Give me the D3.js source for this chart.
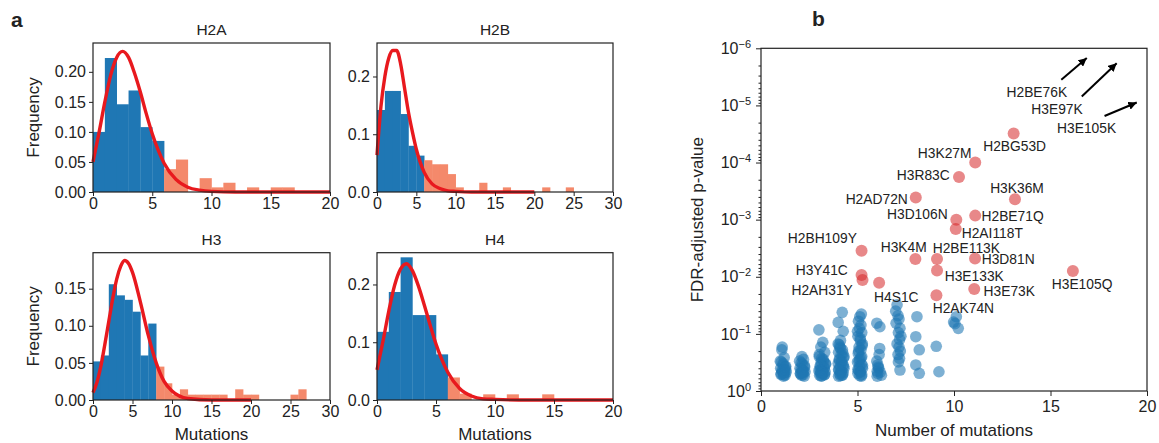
<!DOCTYPE html>
<html><head><meta charset="utf-8">
<script src="https://cdn.jsdelivr.net/npm/d3@7"></script>
<style>
body{margin:0;background:#fff}
svg{display:block}
text{font-family:"Liberation Sans",Arial,Helvetica,sans-serif;fill:#222}
</style>
</head><body>
<svg id="c" width="1159" height="443"></svg>
<script>
// ---------- DATA (panel a: histograms, bin width 1 starting at 0) ----------
const histNames = ["H2A", "H2B", "H3", "H4"];
const h2aFreq = [0.100,0.223,0.146,0.169,0.108,0.085,0.038,0.054,0,0.023,0.0077,0.0154,0,0.0077,0,0.0077,0.0077];
const h2bFreq = [0.142,0.175,0.175,0.135,0.080,0.063,0.055,0.048,0.048,0.031,0.008,0,0,0.016,0,0,0.008,0,0,0,0,0.008,0,0,0.008];
const h3Freq  = [0.052,0.060,0.156,0.141,0.135,0.119,0.060,0.103,0.045,0.0225,0.0072,0.0144,0.0072,0.0072,0.0072,0.0072,0.0072,0,0.0144,0.0072,0.0072,0,0,0,0,0.0072,0.0144];
const h4Freq  = [0.118,0.187,0.247,0.147,0.147,0.079,0.039,0.011,0,0.0098,0,0.0098,0,0,0.0098];
const splitAt = [6, 6, 8, 6];          // bins at/after this value are the tail (orange)
// fitted curves
const curveX   = [0,0.5,1,1.5,2,2.5,3,3.5,4,4.5,5,6,7,8,9,10,12,15,20];
const h2aCurve = [0.050,0.098,0.150,0.195,0.224,0.234,0.224,0.198,0.166,0.130,0.097,0.048,0.021,0.008,0.003,0.001,0,0,0];
const h2bCurve = [0.064,0.148,0.200,0.232,0.245,0.245,0.222,0.180,0.138,0.104,0.074,0.034,0.014,0.006,0.002,0.001,0,0,0];
const h3Curve  = [0.010,0.024,0.046,0.075,0.106,0.137,0.163,0.180,0.188,0.184,0.172,0.132,0.087,0.050,0.025,0.012,0.002,0,0];
const h4Curve  = [0.052,0.101,0.154,0.199,0.227,0.236,0.224,0.198,0.165,0.130,0.097,0.048,0.020,0.007,0.002,0.001,0,0,0];
const xMaxes = [20, 30, 30, 20];
const yMaxes = [0.248, 0.258, 0.1985, 0.255];
const yTickSets = [[0,0.05,0.10,0.15,0.20],[0,0.1,0.2],[0,0.05,0.10,0.15],[0,0.1,0.2]];
const yTickFormats = [".2f", ".1f", ".2f", ".1f"];

// ---------- DATA (panel b: scatter) ----------
const blueMut = [
 1.10,1.08,1.20,1.05,1.15,1.28,1.02,1.22,1.12,1.30,1.06,1.18,1.25, 1.00,1.14,1.26,1.08,1.20,1.03,1.17,1.29,
 2.12,2.20,2.08,2.25,2.02,2.15,2.28,2.05,2.18,2.10, 2.00,2.14,2.26,2.08,2.20,2.04,2.24,2.16,
 3.00,3.20,3.10,3.30,3.02,3.22,3.12,3.35,3.06,3.26,3.15,3.00,3.32,3.08,3.20,3.28,3.04,3.16, 3.02,3.14,3.24,3.34,3.10,3.28,3.06,3.18,3.30,3.12,
 4.21,4.00,4.26,4.12,4.05,4.09,4.22,4.02,4.15,4.28,4.06,4.18,4.00,4.24,4.10,4.30,4.04,4.16,4.26,4.08,4.20,4.12,4.02, 4.00,4.12,4.24,4.30,4.06,4.18,4.28,4.02,4.14,4.22,
 5.20,5.12,5.05,5.18,5.10,5.22,5.02,5.15,5.25,5.08,5.18,5.04,5.22,5.12,5.00,5.20,5.10,5.26,5.06,5.16,5.02,5.22,5.12, 5.00,5.14,5.24,5.06,5.18,5.08,5.26,5.02,5.14,5.20,
 6.00,6.16,6.15,6.12,6.00,6.05,6.10,6.02,6.05,6.24, 6.08,6.18,6.02,
 7.05,6.98,7.10,7.15,7.00,7.20,7.12,7.25,7.18,7.05,7.15,7.22,7.10,7.18,7.12,7.20,
 8.08,8.02,8.20,8.02,8.20,
 9.08,9.22,
 10.12,9.98,10.05,10.22];
const blueP = [
 0.17,0.19,0.26,0.31,0.35,0.37,0.40,0.42,0.45,0.47,0.50,0.52,0.53, 0.30,0.33,0.38,0.44,0.48,0.51,0.55,0.43,
 0.25,0.28,0.32,0.36,0.40,0.43,0.46,0.49,0.52,0.53, 0.30,0.34,0.38,0.42,0.45,0.50,0.55,0.48,
 0.085,0.14,0.17,0.21,0.25,0.28,0.31,0.34,0.37,0.40,0.42,0.44,0.46,0.48,0.50,0.52,0.53,0.54, 0.23,0.27,0.30,0.33,0.36,0.39,0.43,0.47,0.51,0.55,
 0.042,0.063,0.09,0.13,0.155,0.17,0.19,0.21,0.23,0.26,0.28,0.30,0.33,0.35,0.38,0.40,0.43,0.45,0.48,0.50,0.52,0.54,0.55, 0.15,0.18,0.22,0.25,0.29,0.32,0.37,0.42,0.47,0.53,
 0.045,0.05,0.06,0.07,0.08,0.095,0.11,0.13,0.15,0.17,0.19,0.22,0.25,0.28,0.31,0.34,0.37,0.40,0.43,0.46,0.49,0.52,0.54, 0.09,0.12,0.16,0.20,0.26,0.30,0.36,0.42,0.47,0.55,
 0.065,0.075,0.18,0.23,0.30,0.35,0.40,0.45,0.49,0.53, 0.38,0.47,0.55,
 0.031,0.04,0.048,0.055,0.065,0.08,0.095,0.11,0.125,0.15,0.17,0.20,0.23,0.27,0.31,0.43,
 0.05,0.112,0.19,0.35,0.49,
 0.165,0.46,
 0.05,0.062,0.066,0.08];
const sigNames = ["H2BG53D","H3K27M","H3R83C","H2AD72N","H3K36M","H3D106N","H2BE71Q","H2AI118T","H2BH109Y","H3K4M","H2BE113K","H3D81N","H3E133K","H3Y41C","H2AH31Y","H4S1C","H2AK74N","H3E73K","H3E105Q"];
const sigMut = [13.09,11.10,10.26,8.02,13.16,10.12,11.10,10.09,5.21,8.00,9.12,11.09,9.12,5.21,5.26,6.12,9.09,11.05,16.16];
const sigP = [3.1e-5,1.0e-4,1.8e-4,4.1e-4,4.4e-4,1.0e-3,8.5e-4,1.46e-3,3.5e-3,4.9e-3,4.9e-3,4.8e-3,7.8e-3,9.3e-3,1.14e-2,1.27e-2,2.1e-2,1.64e-2,7.9e-3];
const offNames = ["H2BE76K","H3E97K","H3E105K"];
const offFrom = [[15.56,3.55e-6],[16.62,7.0e-6],[17.80,1.53e-5]];
const offTo   = [[16.88,1.48e-6],[18.43,1.82e-6],[19.47,8.9e-6]];
const offLabelAt = [[14.29,5.96e-6],[15.34,1.17e-5],[16.87,2.51e-5]];
const yMajor = [1,1e-1,1e-2,1e-3,1e-4,1e-5,1e-6];
const yExp = ["0","\u22121","\u22122","\u22123","\u22124","\u22125","\u22126"];

// ---------- LAYOUT / STYLE ----------
const boxes = [[93,43,330,192],[377,43,613,192],[93,252.7,330,400],[377,252.7,613,400]];
const labelLayout = { // dx, dy (px), anchor
 H2BG53D:[1,12.4,"middle"], H3K27M:[-3.7,-9.3,"end"], H3R83C:[-9.3,-2,"end"], H2AD72N:[-8,1.3,"end"],
 H3K36M:[2,-11,"middle"], H3D106N:[-8.7,-5,"end"], H2BE71Q:[6.3,1,"start"], H2AI118T:[6,4.3,"start"],
 H2BH109Y:[-4.7,-12.4,"end"], H3K4M:[-11.7,-11.6,"middle"], H2BE113K:[-4.3,-10.8,"start"], H3D81N:[6.7,0.6,"start"],
 H3E133K:[7.7,5.3,"start"], H3Y41C:[-13.7,-5,"end"], H2AH31Y:[-9.7,10,"end"], H4S1C:[17.2,14,"middle"],
 H2AK74N:[-3.7,12.6,"start"], H3E73K:[9.3,2,"start"], H3E105Q:[9.2,13.3,"middle"]
};
const BLUE="#1f77b4", ORANGE="#f4896b", RED="#e8191e";
const TICK_FS=16, LABEL_FS=17, TITLE_FS=15.5, ANNOT_FS=13.8;

const svg = d3.select("#c");

function styleAxis(g, fs){
  g.select(".domain").remove();
  g.selectAll(".tick line").attr("stroke","#222").attr("stroke-width",1);
  g.selectAll(".tick text").attr("font-size",fs).attr("fill","#222").style("font-family","Liberation Sans, Arial, sans-serif");
}

// ---------- PANEL a ----------
const freqs = [h2aFreq,h2bFreq,h3Freq,h4Freq];
const curves = [h2aCurve,h2bCurve,h3Curve,h4Curve];
histNames.forEach((name,k)=>{
  const [x0,y0,x1,y1] = boxes[k];
  const x = d3.scaleLinear().domain([0,xMaxes[k]]).range([x0,x1]);
  const y = d3.scaleLinear().domain([0,yMaxes[k]]).range([y1,y0]);
  const g = svg.append("g");
  const bins = freqs[k].map((f,i)=>({i,f})).filter(d=>d.f>0);
  g.selectAll("rect.bar").data(bins).join("rect")
    .attr("x",d=>x(d.i)).attr("width",d=>x(d.i+1)-x(d.i)+0.3)
    .attr("y",d=>y(d.f)).attr("height",d=>y(0)-y(d.f))
    .attr("fill",d=>d.i>=splitAt[k]?ORANGE:BLUE);
  const line = d3.line().x(d=>x(d[0])).y(d=>y(d[1])).curve(d3.curveMonotoneX);
  g.append("path").datum(curveX.map((cx,i)=>[cx,curves[k][i]]))
    .attr("d",line).attr("fill","none").attr("stroke",RED).attr("stroke-width",3.4).attr("stroke-linejoin","round");
  g.append("rect").attr("x",x0).attr("y",y0).attr("width",x1-x0).attr("height",y1-y0)
    .attr("fill","none").attr("stroke","#222").attr("stroke-width",1.2);
  const xt = xMaxes[k]===20?[0,5,10,15,20]:[0,5,10,15,20,25,30];
  const gx = g.append("g").attr("transform",`translate(0,${y1})`)
    .call(d3.axisBottom(x).tickValues(xt).tickSize(4).tickPadding(2));
  styleAxis(gx,TICK_FS);
  const gy = g.append("g").attr("transform",`translate(${x0},0)`)
    .call(d3.axisLeft(y).tickValues(yTickSets[k]).tickFormat(d3.format(yTickFormats[k])).tickSize(4).tickPadding(3));
  styleAxis(gy,TICK_FS);
  g.append("text").attr("x",(x0+x1)/2).attr("y",y0-8).attr("text-anchor","middle").attr("font-size",TITLE_FS).text(name);
  if(k%2===0){
    g.append("text").attr("transform",`translate(33,${(y0+y1)/2}) rotate(-90)`).attr("dy","0.35em")
      .attr("text-anchor","middle").attr("font-size",LABEL_FS).text("Frequency");
  }
  if(k>=2){
    g.append("text").attr("x",(x0+x1)/2).attr("y",440).attr("text-anchor","middle").attr("font-size",LABEL_FS).text("Mutations");
  }
});
svg.append("text").attr("x",11).attr("y",27).attr("font-size",21).attr("font-weight","bold").text("a");
svg.append("text").attr("x",812).attr("y",26).attr("font-size",21).attr("font-weight","bold").text("b");

// ---------- PANEL b ----------
const bx0=761,bx1=1147,by0=48.3,by1=391;
const X = d3.scaleLinear().domain([0,20]).range([bx0,bx1]);
const Y = d3.scaleLog().domain([1,1e-6]).range([by1,by0]);
const gb = svg.append("g");
gb.selectAll("circle.blue").data(blueMut.map((m,i)=>[m,blueP[i]])).join("circle")
  .attr("cx",d=>X(d[0])).attr("cy",d=>Y(d[1])).attr("r",5.8)
  .attr("fill",BLUE).attr("fill-opacity",0.58);
gb.selectAll("circle.red").data(sigNames.map((n,i)=>({n,m:sigMut[i],p:sigP[i]}))).join("circle")
  .attr("cx",d=>X(d.m)).attr("cy",d=>Y(d.p)).attr("r",6)
  .attr("fill","#d62728").attr("fill-opacity",0.55);
gb.selectAll("text.sig").data(sigNames.map((n,i)=>({n,m:sigMut[i],p:sigP[i]}))).join("text")
  .attr("x",d=>X(d.m)+labelLayout[d.n][0]).attr("y",d=>Y(d.p)+labelLayout[d.n][1])
  .attr("dy","0.35em").attr("text-anchor",d=>labelLayout[d.n][2]).attr("font-size",ANNOT_FS).text(d=>d.n);
// arrows for off-scale points
const defs = svg.append("defs");
defs.append("marker").attr("id","ah").attr("viewBox","0 0 10 10").attr("refX",10).attr("refY",5)
  .attr("markerWidth",4.2).attr("markerHeight",4.2).attr("orient","auto")
  .append("path").attr("d","M0,0 L10,5 L0,10 z").attr("fill","#000");
offNames.forEach((n,i)=>{
  gb.append("line").attr("x1",X(offFrom[i][0])).attr("y1",Y(offFrom[i][1]))
    .attr("x2",X(offTo[i][0])).attr("y2",Y(offTo[i][1]))
    .attr("stroke","#000").attr("stroke-width",2).attr("marker-end","url(#ah)");
  gb.append("text").attr("x",X(offLabelAt[i][0])).attr("y",Y(offLabelAt[i][1])).attr("dy","0.35em")
    .attr("text-anchor","middle").attr("font-size",ANNOT_FS).text(n);
});
gb.append("rect").attr("x",bx0).attr("y",by0).attr("width",bx1-bx0).attr("height",by1-by0)
  .attr("fill","none").attr("stroke","#222").attr("stroke-width",1.2);
const gbx = gb.append("g").attr("transform",`translate(0,${by1})`)
  .call(d3.axisBottom(X).tickValues([0,5,10,15,20]).tickSize(5).tickPadding(5));
styleAxis(gbx,TICK_FS);
const minor = [];
for(let e=0;e<6;e++){ for(let m=2;m<=9;m++){ minor.push(m*Math.pow(10,-(e+1))); } }
const gbm = gb.append("g").attr("transform",`translate(${bx0},0)`)
  .call(d3.axisLeft(Y).tickValues(minor).tickFormat("").tickSize(2.5));
styleAxis(gbm,TICK_FS);
const gby = gb.append("g").attr("transform",`translate(${bx0},0)`)
  .call(d3.axisLeft(Y).tickValues(yMajor).tickFormat("").tickSize(5).tickPadding(5));
styleAxis(gby,TICK_FS);
gby.selectAll(".tick text").each(function(d,i){
  const t=d3.select(this); t.text("");
  t.append("tspan").text("10");
  t.append("tspan").attr("dy","-0.55em").attr("font-size",11).text(yExp[i]);
});
gb.append("text").attr("transform",`translate(697,${(by0+by1)/2}) rotate(-90)`).attr("dy","0.35em")
  .attr("text-anchor","middle").attr("font-size",LABEL_FS).text("FDR-adjusted p-value");
gb.append("text").attr("x",(bx0+bx1)/2).attr("y",436).attr("text-anchor","middle").attr("font-size",LABEL_FS).text("Number of mutations");
</script>
</body></html>
